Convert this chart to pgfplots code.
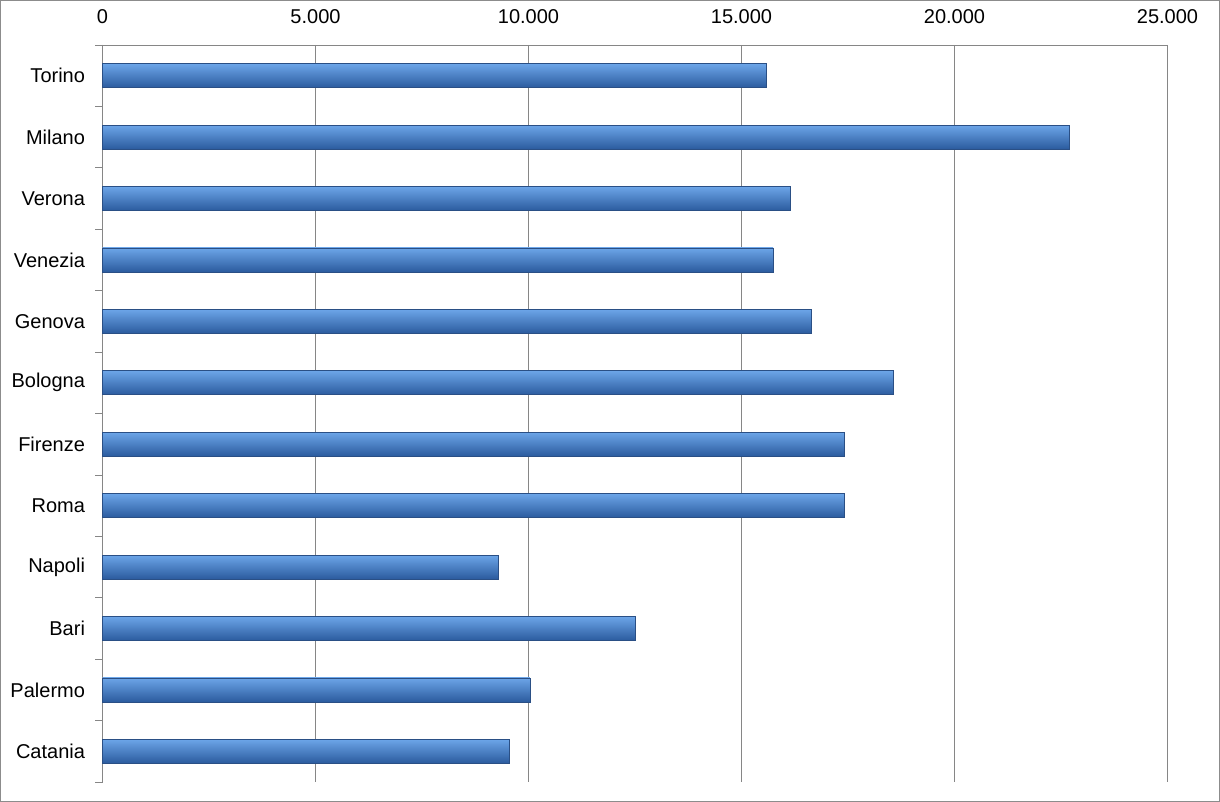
\documentclass[border=0pt]{standalone}
\usepackage{pgfplots}
\pgfplotsset{compat=1.18}
\usepackage{fontspec}
\setmainfont{Liberation Sans}
\definecolor{gridgray}{HTML}{868686}
\definecolor{framegray}{HTML}{8C8C8C}
\definecolor{bartop}{HTML}{6CA5E8}
\definecolor{barmid}{HTML}{427ECA}
\definecolor{barbot}{HTML}{2B5B9E}
\definecolor{baredge}{HTML}{2A4F85}
\pgfplotsset{mybar/.style={xbar, bar width=24pt, bar shift=0pt, draw=baredge, line width=0.6pt,
  top color=bartop, middle color=barmid, bottom color=barbot}}
\begin{document}
\begin{tikzpicture}[x=1pt,y=1pt]
\draw[framegray,line width=1.2pt] (0.6,0.6) rectangle (1219.4,801.4);
\begin{axis}[
  at={(102.5pt,20pt)}, anchor=south west,
  scale only axis, width=1065pt, height=737pt,
  font=\fontsize{20}{22}\selectfont,
  xmin=0, xmax=25000,
  ymin=-0.5, ymax=11.5,
  y dir=reverse,
  axis x line*=top, axis y line*=left,
  axis line style={gridgray, line width=0.8pt, -},
  xtick={0,5000,10000,15000,20000,25000},
  scaled x ticks=false,
  xticklabel pos=upper,
  /pgf/number format/1000 sep={.},
  /pgf/number format/assume math mode=true,
  xticklabel style={yshift=11pt},
  xmajorgrids, grid style={gridgray, line width=0.8pt},
  major x tick style={draw=none},
  ytick={-0.5,0.5,1.5,2.5,3.5,4.5,5.5,6.5,7.5,8.5,9.5,10.5,11.5},
  yticklabels={},
  major tick length=7pt,
  y tick style={gridgray, line width=0.8pt},
  tick align=outside,
  extra y ticks={0,...,11},
  extra y tick labels={Torino,Milano,Verona,Venezia,Genova,Bologna,Firenze,Roma,Napoli,Bari,Palermo,Catania},
  extra y tick style={major tick length=0pt, yticklabel style={xshift=-14pt}},
  clip=false,
  after end axis/.code={\draw[gridgray, line width=0.8pt] (axis description cs:0,1) -- (axis description cs:1,1);},
]
\addplot[mybar] coordinates {(15580,0)};
\addplot[mybar] coordinates {(22690,1)};
\addplot[mybar] coordinates {(16140,2)};
\addplot[mybar] coordinates {(15740,3)};
\addplot[mybar] coordinates {(16630,4)};
\addplot[mybar] coordinates {(18570,5)};
\addplot[mybar] coordinates {(17420,6)};
\addplot[mybar] coordinates {(17420,7)};
\addplot[mybar] coordinates {(9285,8)};
\addplot[mybar] coordinates {(12500,9)};
\addplot[mybar] coordinates {(10035,10)};
\addplot[mybar] coordinates {(9550,11)};
\end{axis}
\end{tikzpicture}
\end{document}
